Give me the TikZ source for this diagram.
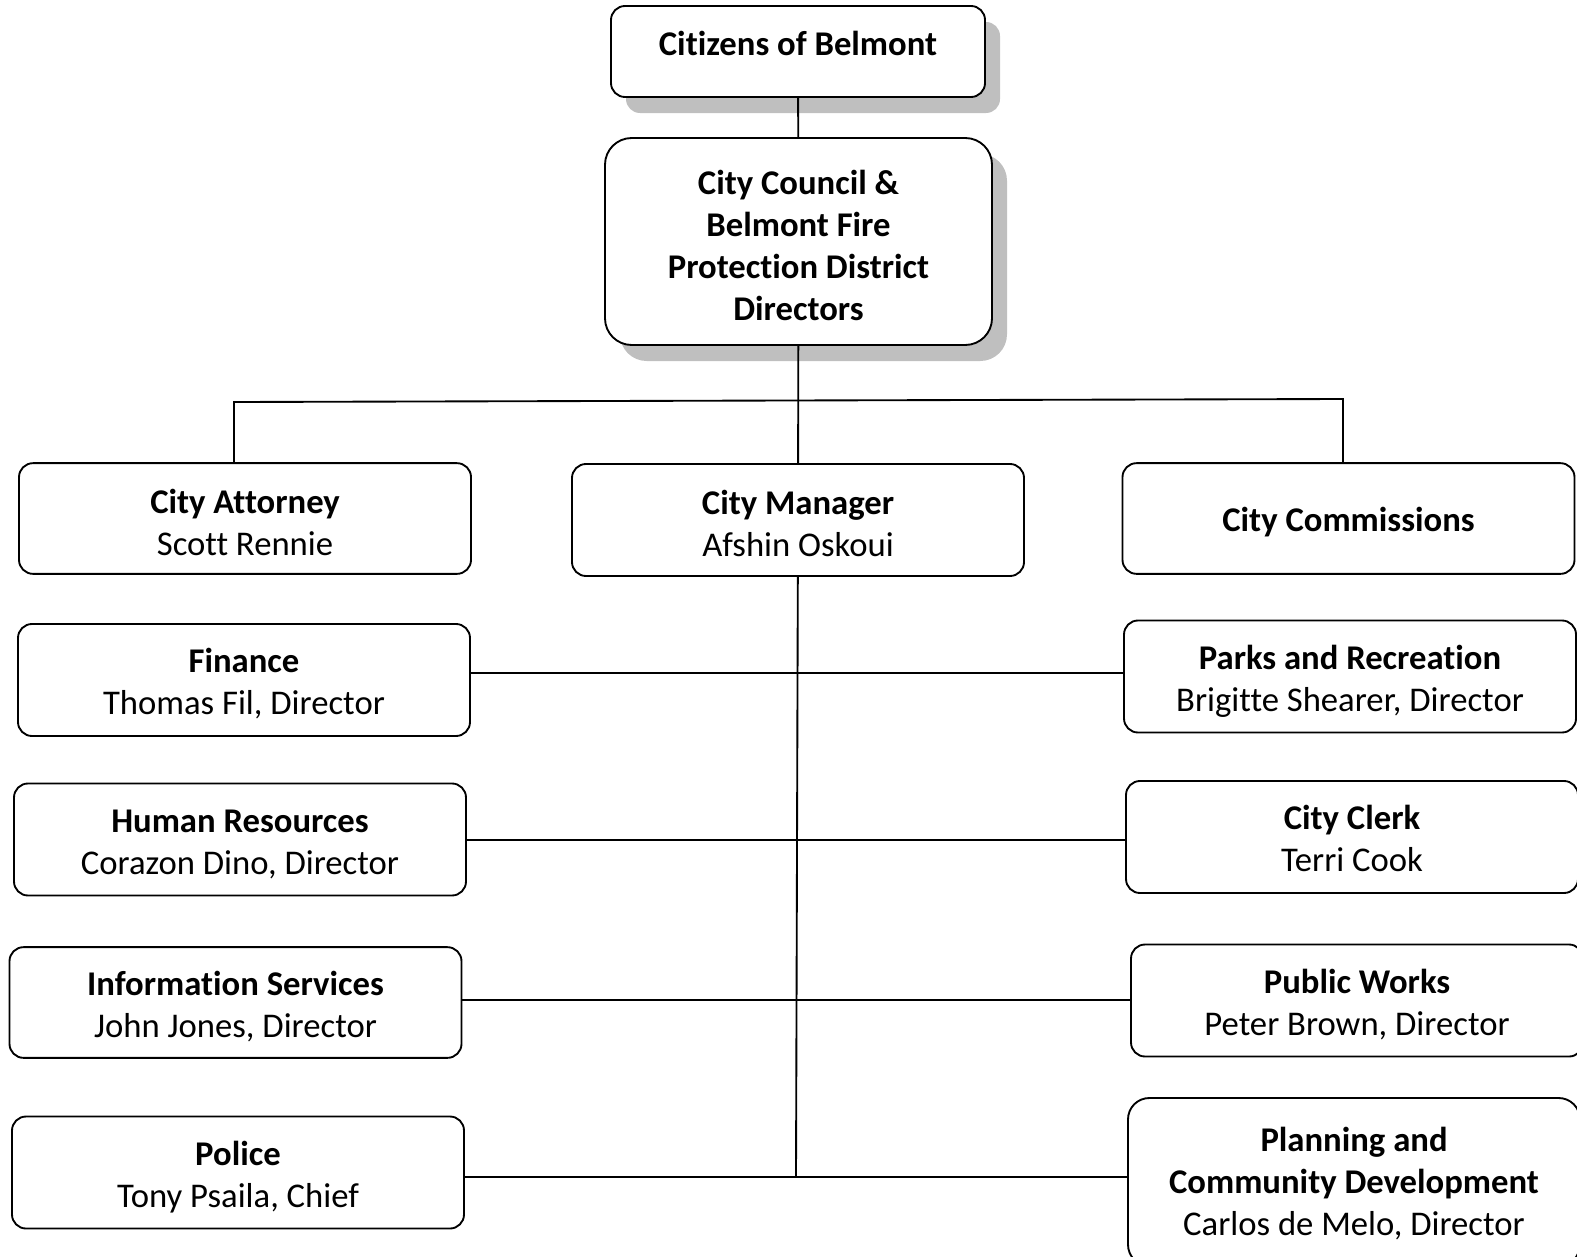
\documentclass[tikz,border=0pt]{standalone}
\usepackage{fontspec}
\setmainfont[Ligatures={NoCommon,NoContextual}]{Carlito}
\usetikzlibrary{shadows}
\definecolor{ShadowGrey}{HTML}{BFBFBF}

\begin{document}
\begin{tikzpicture}[x=0.75pt,y=-0.75pt,
    font=\fontsize{26}{31.5}\selectfont,
    orgbox/.style={draw, line width=1.4pt, rounded corners=10.5pt, fill=white,
      align=center, inner sep=0pt, minimum width=339pt, minimum height=84pt,
      text depth=6pt, text height=58pt},
    topbox/.style={orgbox, font=\fontsize{26}{31.5}\selectfont\bfseries,
      drop shadow={shadow xshift=11.25pt, shadow yshift=-12pt, fill=ShadowGrey, opacity=1}},
    link/.style={line width=1.4pt}]
  \useasboundingbox (0,0) rectangle (1577,1256);

  % governing bodies
  \node[topbox, minimum width=280.5pt, minimum height=68.25pt, text height=11.7pt]
    (citizens) at (798,51.5) {Citizens of Belmont};
  \node[topbox, minimum width=290.25pt, minimum height=155.25pt, rounded corners=20pt,
    text height=125pt]
    (council) at (798.5,241.5) {City Council \&\\Belmont Fire\\Protection District\\Directors};

  % appointed by council
  \node[orgbox, minimum height=83pt, text height=61pt] (attorney) at (245,518.5) {\textbf{City Attorney}\\Scott Rennie};
  \node[orgbox, text height=61pt] (manager) at (798,520) {\textbf{City Manager}\\Afshin Oskoui};
  \node[orgbox, minimum height=83pt, text height=24.75pt] (commissions) at (1348.5,518.5)
    {\textbf{City Commissions}};

  % departments
  \node[orgbox] (finance) at (244,680) {\textbf{Finance}\\Thomas Fil, Director};
  \node[orgbox] (hr) at (240,839.5) {\textbf{Human Resources}\\Corazon Dino, Director};
  \node[orgbox, minimum height=83pt] (info) at (235.5,1002.5) {\textbf{Information Services}\\John Jones, Director};
  \node[orgbox] (police) at (238,1172.5) {\textbf{Police}\\Tony Psaila, Chief};
  \node[orgbox] (parks) at (1350,676.5) {\textbf{Parks and Recreation}\\Brigitte Shearer, Director};
  \node[orgbox] (clerk) at (1352,837) {\textbf{City Clerk}\\Terri Cook};
  \node[orgbox] (works) at (1357,1000.5) {\textbf{Public Works}\\Peter Brown, Director};
  \node[orgbox, minimum height=126pt, rounded corners=16pt, text height=85.5pt] (planning) at (1354,1182)
    {\textbf{Planning and}\\\textbf{Community Development}\\Carlos de Melo, Director};

  % connectors
  \coordinate (barL) at (234,402);
  \coordinate (barR) at (1343,399);
  \coordinate (j1) at (796,673);
  \coordinate (j2) at (796,840);
  \coordinate (j3) at (796,1000);
  \coordinate (j4) at (796,1177);

  \draw[link] (citizens) -- (council);
  \draw[link] (council) -- (manager);
  \draw[link] (barL |- attorney.north) -- (barL) -- (barR) -- (barR |- commissions.north);
  \draw[link] (manager) -- (j4);
  \draw[link] (finance.east |- j1) -- (parks.west |- j1);
  \draw[link] (hr.east |- j2) -- (clerk.west |- j2);
  \draw[link] (info.east |- j3) -- (works.west |- j3);
  \draw[link] (police.east |- j4) -- (planning.west |- j4);
\end{tikzpicture}
\end{document}
